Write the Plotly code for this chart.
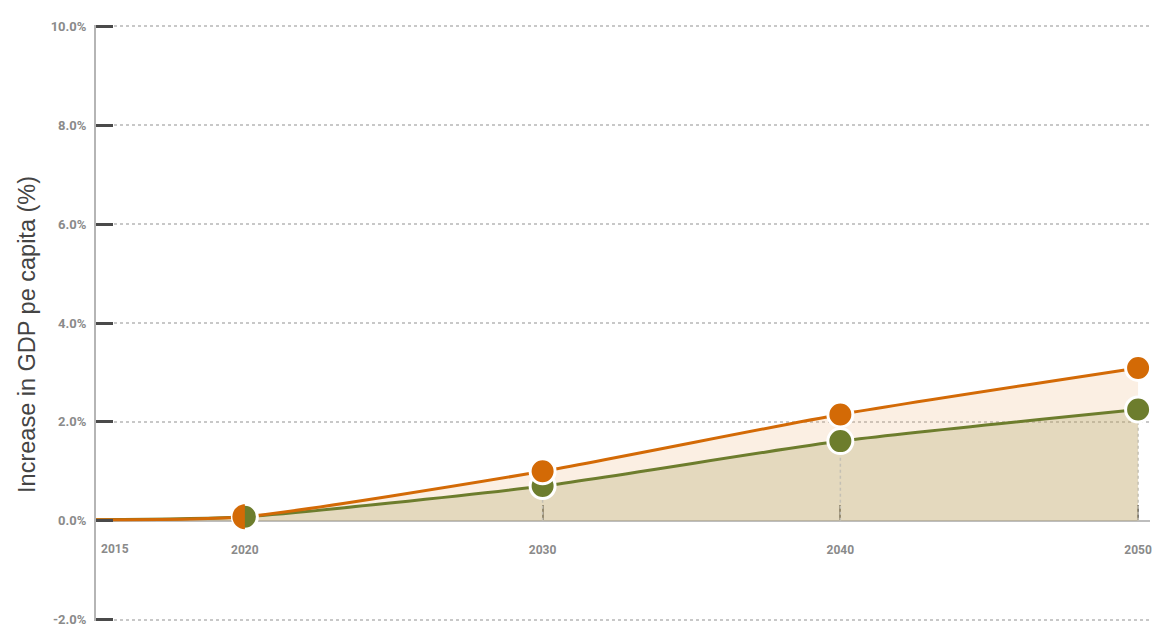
import plotly.graph_objects as go

years = [2015, 2020, 2030, 2040, 2050]
orange_vals = [0.02, 0.08, 1.0, 2.15, 3.09]
green_vals = [0.02, 0.08, 0.70, 1.61, 2.25]
marker_years = [2030, 2040, 2050]
orange_marks = [1.0, 2.15, 3.09]
green_marks = [0.70, 1.61, 2.25]
split_year = 2020
split_val = 0.08
y_ticks = [-2, 0, 2, 4, 6, 8, 10]
y_tick_text = ["-2.0%", "0.0%", "2.0%", "4.0%", "6.0%", "8.0%", "10.0%"]
x_ticks = [2020, 2030, 2040, 2050]
x_tick_text = ["2020", "2030", "2040", "2050"]
y_title = "Increase in GDP pe capita (%)"
y_range = [-2.03, 10.03]
x_range = [2015, 2050.4]

ORANGE = "#d36a06"
GREEN = "#6d7d2d"
LABEL = "#8a8a8a"
SMOOTH = 0.6

fig = go.Figure()

# fills
fig.add_trace(go.Scatter(x=years, y=green_vals, mode="lines", line=dict(width=0, shape="spline", smoothing=SMOOTH),
                         fill="tozeroy", fillcolor="rgba(190,165,100,0.42)", hoverinfo="skip", showlegend=False))
fig.add_trace(go.Scatter(x=years, y=orange_vals, mode="lines", line=dict(width=0, shape="spline", smoothing=SMOOTH),
                         fill="tonexty", fillcolor="rgba(235,175,115,0.2)", hoverinfo="skip", showlegend=False))

# drop lines
for xv, gv in zip(marker_years, green_marks):
    fig.add_trace(go.Scatter(x=[xv, xv], y=[0, gv], mode="lines",
                             line=dict(color="#c4c0b4", width=1.5, dash="dot"),
                             hoverinfo="skip", showlegend=False))

# lines
fig.add_trace(go.Scatter(x=years, y=green_vals, mode="lines",
                         line=dict(color=GREEN, width=3, shape="spline", smoothing=SMOOTH),
                         hoverinfo="skip", showlegend=False))
fig.add_trace(go.Scatter(x=years, y=orange_vals, mode="lines",
                         line=dict(color=ORANGE, width=3, shape="spline", smoothing=SMOOTH),
                         hoverinfo="skip", showlegend=False))

# markers
fig.add_trace(go.Scatter(x=[split_year] + marker_years, y=[split_val] + green_marks, mode="markers",
                         marker=dict(color=GREEN, size=25, line=dict(color="white", width=3)),
                         cliponaxis=False, hoverinfo="skip", showlegend=False))
fig.add_trace(go.Scatter(x=marker_years, y=orange_marks, mode="markers",
                         marker=dict(color=ORANGE, size=25, line=dict(color="white", width=3)),
                         cliponaxis=False, hoverinfo="skip", showlegend=False))

# left half of the 2020 marker in orange
R = 12.5
k = 0.5523 * R
path = (f"M 0 {R} C {-k} {R} {-R} {k} {-R} 0 "
        f"C {-R} {-k} {-k} {-R} 0 {-R} Z")
fig.add_shape(type="path", xref="x", yref="y", xsizemode="pixel", ysizemode="pixel",
              xanchor=split_year, yanchor=split_val, path=path,
              fillcolor=ORANGE, line=dict(width=0), layer="above")

fig.add_annotation(x=x_range[0], y=0, xref="x", yref="y", text="2015", showarrow=False,
                   xanchor="left", yanchor="middle", xshift=3, yshift=-28,
                   font=dict(family="Roboto", size=12, color=LABEL, weight="bold"))

# y-axis title
fig.add_annotation(x=0, y=0.48, xref="paper", yref="paper", text=y_title, showarrow=False,
                   textangle=-90, xanchor="center", yanchor="middle", xshift=-69,
                   font=dict(family="Liberation Sans", size=23.5, color="#444444"))

fig.update_layout(
    width=1156, height=626,
    margin=dict(l=96, r=6, t=25, b=5),
    paper_bgcolor="white", plot_bgcolor="white",
    font=dict(family="Roboto"),
    xaxis=dict(range=x_range, tickvals=x_ticks, ticktext=x_tick_text,
               anchor="free", position=(0 - y_range[0]) / (y_range[1] - y_range[0]),
               showgrid=False, zeroline=False, automargin=False, layer="below traces",
               showline=True, linecolor="#bdbdbd", linewidth=2,
               ticks="inside", ticklen=15, tickwidth=2, tickcolor="#7a7a7a",
               ticklabelstandoff=18,
               tickfont=dict(family="Roboto", size=12, color=LABEL, weight="bold")),
    yaxis=dict(range=y_range, tickvals=y_ticks, ticktext=y_tick_text,
               showgrid=True, gridcolor="#c8c8c8", gridwidth=1.5, griddash="dot",
               zeroline=False, showline=True, linecolor="#b5b5b5", linewidth=2,
               automargin=False, ticklabeloverflow="allow",
               ticks="inside", ticklen=17, tickwidth=2.5, tickcolor="#4a4a4a",
               ticklabelstandoff=5,
               tickfont=dict(family="Roboto", size=13, color=LABEL, weight="bold")),
)

fig.write_html("out.html", config={"displayModeBar": False},
               post_script="document.body.style.margin='0';document.body.style.overflow='hidden';")
